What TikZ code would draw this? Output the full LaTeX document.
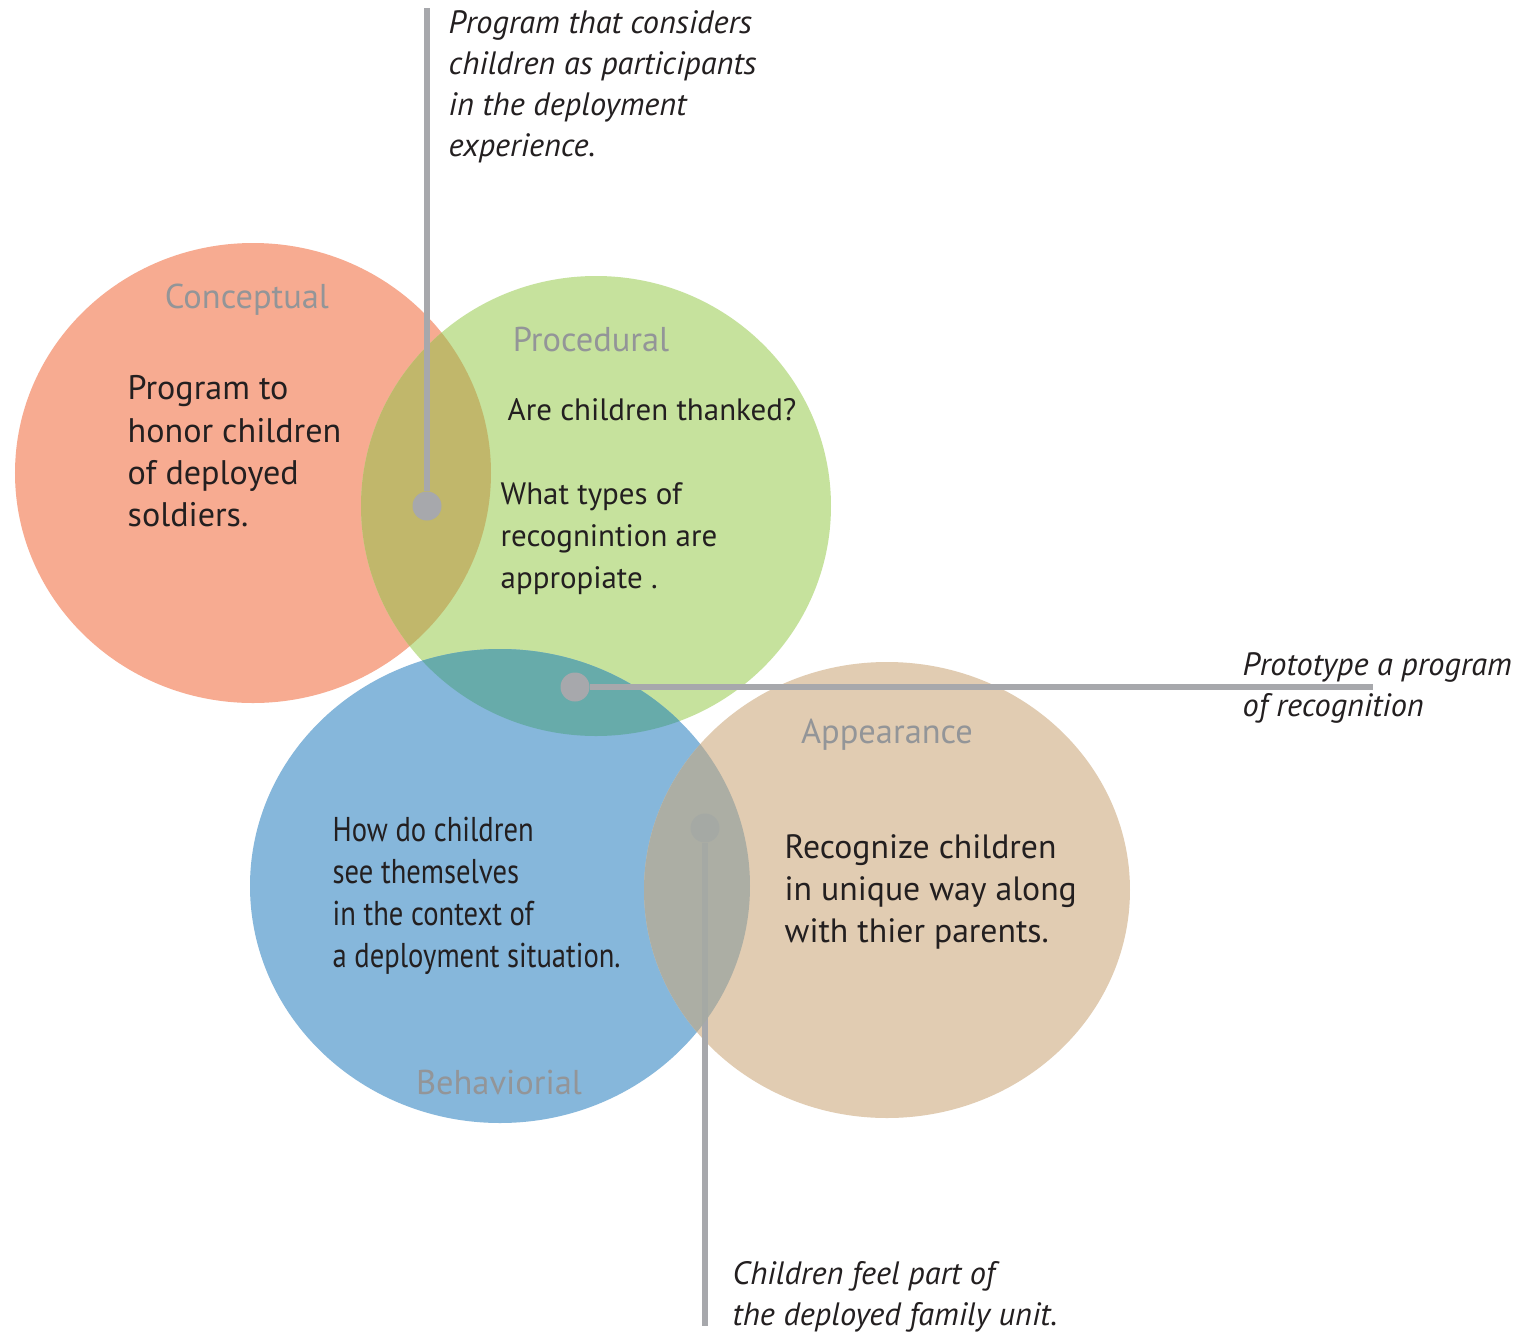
\documentclass[tikz,border=0pt]{standalone}
\usepackage{fontspec}
\setmainfont{PT Sans}
\newfontfamily\narrowfont[FakeStretch=0.83]{PT Sans}
\usetikzlibrary{positioning}

\definecolor{concept}{HTML}{F7AB91}
\definecolor{proced}{HTML}{C6E29D}
\definecolor{behav}{HTML}{86B7DB}
\definecolor{appear}{HTML}{E1CCB2}
\definecolor{conproc}{HTML}{C1B76B}
\definecolor{procbeh}{HTML}{67ABAA}
\definecolor{behapp}{HTML}{A5AAA3}
\definecolor{pingray}{HTML}{A7A8AC}
\definecolor{headgray}{HTML}{939598}
\definecolor{ink}{HTML}{231F20}

\tikzset{
  heading/.style={text=headgray, inner sep=0pt, font=\fontsize{9.8}{12}\selectfont},
  body/.style={text=ink, align=left, anchor=north west, inner sep=0pt, font=\fontsize{9.7}{12}\selectfont},
  note/.style={text=ink, align=left, anchor=north west, inner sep=0pt, font=\itshape\fontsize{9.2}{11.7}\selectfont},
  pin/.style={circle, fill=pingray, inner sep=0pt, minimum size=2.9mm},
  leader/.style={draw=pingray, line width=1.5pt},
}

\begin{document}
\begin{tikzpicture}
  \useasboundingbox[fill=white] (0,0) rectangle (15.4,-13.33);

  % the four sets
  \fill[concept] (2.53,-4.73) ellipse [x radius=2.38, y radius=2.30];
  \fill[proced] (5.96,-5.06) ellipse [x radius=2.35, y radius=2.30];
  \fill[behav] (5.00,-8.86) ellipse [x radius=2.50, y radius=2.37];
  \fill[appear] (8.87,-8.90) ellipse [x radius=2.43, y radius=2.28];

  % overlaps
  \begin{scope}
    \clip (2.53,-4.73) ellipse [x radius=2.38, y radius=2.30];
    \fill[conproc] (5.96,-5.06) ellipse [x radius=2.35, y radius=2.30];
  \end{scope}
  \begin{scope}
    \clip (5.96,-5.06) ellipse [x radius=2.35, y radius=2.30];
    \fill[procbeh] (5.00,-8.86) ellipse [x radius=2.50, y radius=2.37];
  \end{scope}

  % family pin sits under the last overlap
  \node[pin] (family) at (7.05,-8.28) {};
  \coordinate (familyend) at (7.05,-13.26);
  \draw[leader] (family) -- (familyend);

  \begin{scope}
    \clip (5.00,-8.86) ellipse [x radius=2.50, y radius=2.37];
    \fill[behapp, fill opacity=0.88] (8.87,-8.90) ellipse [x radius=2.43, y radius=2.28];
  \end{scope}

  % other pins and leaders
  \node[pin] (participants) at (4.27,-5.06) {};
  \coordinate (participantsend) at (4.27,-0.08);
  \draw[leader] (participants) -- (participantsend);

  \node[pin] (prototype) at (5.75,-6.87) {};
  \coordinate (prototypeend) at (13.73,-6.87);
  \draw[leader] (prototype) -- (prototypeend);

  % headings
  \node[heading] (conceptual) at (2.47,-3.00) {Conceptual};
  \node[heading] (procedural) at (5.91,-3.40) {Procedural};
  \node[heading] (appearance) at (8.87,-7.35) {Appearance};
  \node[heading] (behaviorial) at (4.99,-10.83) {Behaviorial};

  % contents
  \node[body] (honor) at (1.27,-3.75) {Program to\\honor children\\of deployed\\soldiers.};
  \node[body, font=\fontsize{8.8}{12}\selectfont] (thanked) at (5.07,-3.98) {Are children thanked?};
  \node[body, font=\fontsize{8.8}{12}\selectfont] (types) at (5.00,-4.82) {What types of\\recognintion are\\appropiate .};
  \node[body, font=\narrowfont\fontsize{9.8}{12}\selectfont] (themselves) at (3.32,-8.16) {How do children\\see themselves\\in the context of\\a deployment situation.};
  \node[body, font=\fontsize{9.6}{12}\selectfont] (unique) at (7.84,-8.34) {Recognize children\\in unique way along\\with thier parents.};

  % notes on the pins
  \node[note] (participantsnote) at (4.48,-0.10) {Program that considers\\children as participants\\in the deployment\\experience.};
  \node[note] (prototypenote) at (12.42,-6.52) {Prototype a program\\of recognition};
  \node[note] (familynote) at (7.32,-12.61) {Children feel part of\\the deployed family unit.};
\end{tikzpicture}
\end{document}
